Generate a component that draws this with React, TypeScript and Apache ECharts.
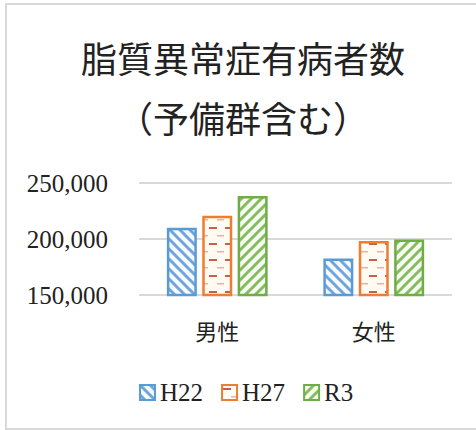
import React, { useEffect, useRef } from "react";
import * as echarts from "echarts";

const categories = ["男性", "女性"];
const seriesNames = ["H22", "H27", "R3"];
const h22 = [210100, 182600];
const h27 = [220800, 198200];
const r3 = [238400, 199500];
const yTicks = [150000, 200000, 250000];

function makePattern(kind: "back" | "fwd" | "dash", color: string, bg: string) {
  const c = document.createElement("canvas");
  if (kind === "dash") {
    c.width = 16;
    c.height = 16;
    const ctx = c.getContext("2d")!;
    ctx.fillStyle = bg;
    ctx.fillRect(0, 0, 16, 16);
    ctx.fillStyle = color;
    ctx.fillRect(1, 3, 8, 2);
    ctx.globalAlpha = 0.45;
    ctx.fillRect(9, 11, 8, 1.5);
    return c;
  }
  const s = 10;
  c.width = s;
  c.height = s;
  const ctx = c.getContext("2d")!;
  ctx.fillStyle = bg;
  ctx.fillRect(0, 0, s, s);
  ctx.strokeStyle = color;
  ctx.lineWidth = 3;
  ctx.beginPath();
  if (kind === "back") {
    ctx.moveTo(-2, -2); ctx.lineTo(s + 2, s + 2);
    ctx.moveTo(-s - 2, -2); ctx.lineTo(2, s + 2);
    ctx.moveTo(s - 2, -2); ctx.lineTo(2 * s + 2, s + 2);
  } else {
    ctx.moveTo(-2, s + 2); ctx.lineTo(s + 2, -2);
    ctx.moveTo(-s - 2, s + 2); ctx.lineTo(2, -2);
    ctx.moveTo(s - 2, s + 2); ctx.lineTo(2 * s + 2, -2);
  }
  ctx.stroke();
  return c;
}

export default function App() {
  const ref = useRef<HTMLDivElement>(null);
  useEffect(() => {
    if (!ref.current) return;
    const chart = echarts.init(ref.current, null, { renderer: "svg" });
    const pBlue = { image: makePattern("back", "#6fa5da", "#f6faff"), repeat: "repeat" };
    const pOrange = { image: makePattern("dash", "#c8603f", "#fffaf4"), repeat: "repeat" };
    const pGreen = { image: makePattern("fwd", "#86bb62", "#f7fcf3"), repeat: "repeat" };
    const styles = [
      { color: pBlue, borderColor: "#5B9BD5" },
      { color: pOrange, borderColor: "#ED7D31" },
      { color: pGreen, borderColor: "#70AD47" },
    ];
    const data = [h22, h27, r3];
    chart.setOption({
      animation: false,
      graphic: [
        {
          type: "rect",
          shape: { x: 6, y: 4, width: 480, height: 425 },
          style: { fill: "none", stroke: "#d9d9d9", lineWidth: 2 },
        },
        {
          type: "text",
          x: 243,
          y: 57,
          style: {
            text: "脂質異常症有病者数",
            fontSize: 36,
            fontFamily: "Noto Sans CJK JP",
            fill: "#222",
            textAlign: "center",
            textVerticalAlign: "middle",
          },
        },
        {
          type: "text",
          x: 243,
          y: 117,
          style: {
            text: "（予備群含む）",
            fontSize: 36,
            fontFamily: "Noto Sans CJK JP",
            fill: "#222",
            textAlign: "center",
            textVerticalAlign: "middle",
          },
        },
      ],
      legend: {
        data: seriesNames,
        left: 139,
        top: 380,
        padding: 0,
        icon: "rect",
        itemWidth: 15,
        itemHeight: 15,
        itemGap: 18,
        textStyle: { fontFamily: "Liberation Serif", fontSize: 25, color: "#222" },
      },
      grid: { left: 139, right: 24, top: 183, bottom: 135 },
      xAxis: {
        type: "category",
        data: categories,
        axisLine: { show: false },
        axisTick: { show: false },
        axisLabel: { fontFamily: "Noto Sans CJK JP", fontSize: 22, color: "#222", margin: 24 },
      },
      yAxis: {
        type: "value",
        min: yTicks[0],
        max: yTicks[yTicks.length - 1],
        interval: 50000,
        axisLine: { show: false },
        axisTick: { show: false },
        splitLine: { lineStyle: { color: "#d9d9d9", width: 2 } },
        axisLabel: {
          fontFamily: "Liberation Serif",
          fontSize: 25,
          color: "#222",
          margin: 31,
          formatter: (v: number) => v.toLocaleString("en-US"),
        },
      },
      series: seriesNames.map((name, i) => ({
        name,
        type: "bar",
        data: data[i],
        barWidth: 30,
        barGap: "18%",
        itemStyle: { ...styles[i], borderWidth: 2.5 },
      })),
    });
    return () => chart.dispose();
  }, []);
  return (
    <div
      ref={ref}
      style={{ position: "fixed", left: 0, top: 0, width: 476, height: 430, background: "#fff" }}
    />
  );
}
